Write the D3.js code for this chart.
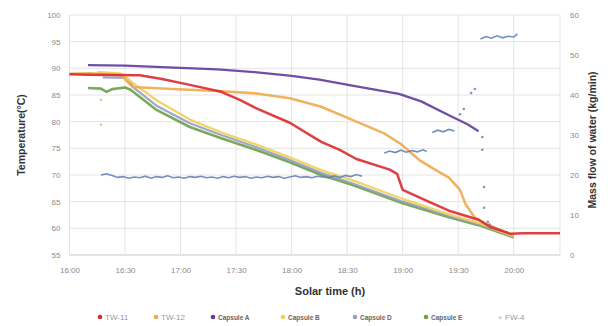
<!DOCTYPE html>
<html>
<head>
<meta charset="utf-8">
<script src="https://cdn.jsdelivr.net/npm/d3@7"></script>
<style>
  body { margin: 0; background: #fff; }
  svg { font-family: "Liberation Sans", Arial, sans-serif; }
</style>
</head>
<body>
<div id="chart-area"></div>
<script>
// solar time as "HH:MM", temperature in degC, flow in kg/min
const tw11 = [["16:00",88.9],["16:10",88.8],["16:38",88.7],["16:50",88.0],["17:05",86.9],["17:22",85.6],["17:32",84.1],["17:41",82.5],["17:59",79.8],["18:16",76.2],["18:26",74.7],["18:35",73.0],["18:53",71.0],["18:57",70.2],["19:00",67.2],["19:14",65.0],["19:25",63.3],["19:41",61.6],["19:47",60.3],["19:58",59.0],["20:05",59.1],["20:25",59.1]]
const tw12 = [["16:00",89.0],["16:11",89.1],["16:28",88.7],["16:34",86.5],["16:50",86.2],["17:22",85.7],["17:41",85.3],["17:59",84.4],["18:16",82.8],["18:35",80.0],["18:50",77.8],["18:59",75.8],["19:09",72.8],["19:20",70.5],["19:25",69.5],["19:31",67.2],["19:34",64.5],["19:39",62.0],["19:45",60.9],["20:00",58.6]]
const tw12Outliers = [["16:17",84.1],["16:17",79.4]]
const capsuleA = [["16:10",90.6],["16:30",90.5],["17:00",90.1],["17:20",89.8],["17:40",89.3],["18:00",88.6],["18:15",87.9],["18:35",86.6],["18:58",85.2],["19:10",83.8],["19:25",81.2],["19:35",79.5],["19:41",78.2]]
const capsuleB = [["16:15",89.3],["16:28",89.0],["16:33",87.6],["16:47",84.0],["17:05",80.4],["17:22",78.0],["17:41",75.7],["17:59",73.3],["18:16",70.9],["18:33",69.0],["19:00",65.5],["19:25",62.6],["19:41",61.0],["20:00",58.5]]
const capsuleD = [["16:18",88.3],["16:31",88.2],["16:35",86.3],["16:47",83.0],["17:05",79.7],["17:22",77.5],["17:41",75.2],["17:59",72.8],["18:16",70.4],["18:33",68.4],["19:00",65.0],["19:25",62.3],["19:41",60.8],["20:00",58.4]]
const capsuleE = [["16:10",86.3],["16:17",86.2],["16:20",85.6],["16:23",86.1],["16:30",86.4],["16:33",86.0],["16:47",82.2],["17:05",79.0],["17:22",76.9],["17:41",74.7],["17:59",72.4],["18:16",70.0],["18:33",68.1],["19:00",64.7],["19:25",62.1],["19:41",60.6],["20:00",58.3]]
// mass flow FW-4, segments of dense readings
const fw4Band = [["16:17",20.0],["16:20",20.3],["16:23",19.9],["16:26",19.4],["16:29",19.6],["16:32",19.2],["16:35",19.5],["16:38",19.3],["16:41",19.7],["16:44",19.2],["16:47",19.6],["16:50",19.4],["16:53",19.8],["16:56",19.3],["16:59",19.5],["17:02",19.2],["17:05",19.6],["17:08",19.4],["17:11",19.7],["17:14",19.3],["17:17",19.5],["17:20",19.2],["17:23",19.6],["17:26",19.3],["17:29",19.7],["17:32",19.4],["17:35",19.6],["17:38",19.2],["17:41",19.5],["17:44",19.3],["17:47",19.7],["17:50",19.4],["17:53",19.6],["17:56",19.2],["17:59",19.5],["18:02",19.8],["18:05",19.4],["18:08",19.6],["18:11",19.3],["18:14",19.7],["18:17",19.5],["18:20",19.3],["18:23",19.8],["18:26",19.4],["18:29",19.9],["18:32",19.6],["18:35",20.1],["18:38",19.7]]
const fw4Mid = [["18:50",25.5],["18:53",26.0],["18:56",25.6],["18:59",26.2],["19:02",25.7],["19:05",26.1],["19:08",25.8],["19:11",26.3],["19:13",25.9]]
const fw4High = [["19:16",30.6],["19:19",31.2],["19:22",30.8],["19:25",31.4],["19:28",31.0]]
const fw4Top = [["19:42",54.0],["19:45",54.6],["19:48",54.2],["19:51",54.8],["19:54",54.3],["19:57",54.7],["20:00",54.5],["20:02",55.3]]
const fw4Points = [["19:31",35.2],["19:33",36.5],["19:37",40.5],["19:39",41.5],["19:43",29.5],["19:43",26.3],["19:44",17.0],["19:44",11.8],["19:46",8.3],["19:47",7.6]]

const timeTicks = ["16:00","16:30","17:00","17:30","18:00","18:30","19:00","19:30","20:00"]
const tempTicks = [55, 60, 65, 70, 75, 80, 85, 90, 95, 100]
const flowTicks = [0, 10, 20, 30, 40, 50, 60]
const legendNames = ["TW-11", "TW-12", "Capsule A", "Capsule B", "Capsule D", "Capsule E", "FW-4"]

const MARGIN = { LEFT: 69.5, RIGHT: 54, TOP: 15, BOTTOM: 71 }
const W = 614, H = 326
const WIDTH = W - MARGIN.LEFT - MARGIN.RIGHT
const HEIGHT = H - MARGIN.TOP - MARGIN.BOTTOM

const hrs = s => { const p = s.split(":"); return +p[0] + p[1] / 60 }

const svg = d3.select("#chart-area").append("svg")
  .attr("width", W).attr("height", H)

const g = svg.append("g")
  .attr("transform", `translate(${MARGIN.LEFT}, ${MARGIN.TOP})`)

const x = d3.scaleLinear().domain([16, hrs("20:25")]).range([0, WIDTH])
const y = d3.scaleLinear().domain([55, 100]).range([HEIGHT, 0])
const y2 = d3.scaleLinear().domain([0, 60]).range([HEIGHT, 0])

// grid
g.append("g").selectAll("line").data(tempTicks).enter().append("line")
  .attr("x1", 0).attr("x2", WIDTH)
  .attr("y1", d => y(d)).attr("y2", d => y(d))
  .attr("stroke", d => d === 55 ? "#c8c8c8" : "#e4e4e4").attr("stroke-width", 1)
g.append("g").selectAll("line").data(timeTicks.map(hrs).concat([hrs("20:25")])).enter().append("line")
  .attr("x1", d => x(d)).attr("x2", d => x(d))
  .attr("y1", 0).attr("y2", HEIGHT)
  .attr("stroke", "#e4e4e4").attr("stroke-width", 1)

// axes
const xAxis = g.append("g").attr("transform", `translate(0, ${HEIGHT})`)
  .call(d3.axisBottom(x).tickValues(timeTicks.map(hrs)).tickSize(0).tickPadding(12)
    .tickFormat((d, i) => timeTicks[i]))
const yAxis = g.append("g")
  .call(d3.axisLeft(y).tickValues(tempTicks).tickSize(0).tickPadding(9))
const y2Axis = g.append("g").attr("transform", `translate(${WIDTH}, 0)`)
  .call(d3.axisRight(y2).tickValues(flowTicks).tickSize(0).tickPadding(10))
;[xAxis, yAxis, y2Axis].forEach(a => {
  a.select(".domain").remove()
  a.selectAll("text").attr("fill", "#8a8a8a").style("font-size", "8px")
})

// titles
svg.append("text").attr("x", 330).attr("y", 295).attr("text-anchor", "middle")
  .style("font-size", "11px").style("font-weight", "bold").attr("fill", "#333")
  .text("Solar time (h)")
svg.append("text").attr("transform", "translate(25, 135) rotate(-90)").attr("text-anchor", "middle")
  .style("font-size", "10.5px").style("font-weight", "bold").attr("fill", "#333")
  .text("Temperature(°C)")
svg.append("text").attr("transform", "translate(596, 140) rotate(-90)").attr("text-anchor", "middle")
  .style("font-size", "10.5px").style("font-weight", "bold").attr("fill", "#333")
  .text("Mass flow of water (kg/min)")

const tempLine = d3.line().x(d => x(hrs(d[0]))).y(d => y(d[1]))
const flowLine = d3.line().x(d => x(hrs(d[0]))).y(d => y2(d[1]))

const series = [
  { data: capsuleE, color: "#6f9e47", w: 2.6 },
  { data: capsuleD, color: "#8e9fc8", w: 2.2 },
  { data: capsuleB, color: "#f2cf57", w: 2.4 },
  { data: tw12, color: "#eeaa4e", w: 2.5 },
  { data: tw11, color: "#dc2a30", w: 2.5 },
  { data: capsuleA, color: "#5e3c9b", w: 2.3 }
]
series.forEach(s => {
  g.append("path").datum(s.data)
    .attr("d", tempLine).attr("fill", "none")
    .attr("stroke", s.color).attr("stroke-width", s.w)
    .attr("stroke-linejoin", "round").attr("opacity", 0.9)
})
g.selectAll(".outlier").data(tw12Outliers).enter().append("circle")
  .attr("cx", d => x(hrs(d[0]))).attr("cy", d => y(d[1])).attr("r", 1.3)
  .attr("fill", "#eeaa4e").attr("opacity", 0.7)

// mass flow
;[fw4Band, fw4Mid, fw4High, fw4Top].forEach(seg => {
  g.append("path").datum(seg)
    .attr("d", flowLine).attr("fill", "none")
    .attr("stroke", "#5a7bb0").attr("stroke-width", 1.6).attr("opacity", 0.85)
})
g.selectAll(".fwpt").data(fw4Points).enter().append("circle")
  .attr("cx", d => x(hrs(d[0]))).attr("cy", d => y2(d[1])).attr("r", 1.3)
  .attr("fill", "#5a7bb0").attr("opacity", 0.8)

// legend
const legendX = [100, 156, 213, 283, 355, 426, 500]
const legendColors = ["#dc2a30", "#eeaa4e", "#5e3c9b", "#f2cf57", "#8e9fc8", "#6f9e47", "#9fb4d0"]
const lg = svg.append("g").attr("transform", "translate(0, 317)")
legendNames.forEach((name, i) => {
  if (name === "FW-4") {
    lg.append("text").attr("x", legendX[i]).attr("y", 2.5).attr("text-anchor", "middle")
      .style("font-size", "8px").attr("fill", legendColors[i]).text("×")
  } else {
    lg.append("circle").attr("cx", legendX[i]).attr("cy", 0).attr("r", 2.3).attr("fill", legendColors[i])
  }
  lg.append("text").attr("x", legendX[i] + 5).attr("y", 2.5)
    .style("font-size", i === 0 || i === 1 || i === 6 ? "8px" : "6.5px")
    .style("font-weight", i >= 2 && i <= 5 ? "bold" : "normal")
    .attr("fill", i === 0 || i === 1 || i === 6 ? "#999" : "#666")
    .text(name)
})
</script>
</body>
</html>
